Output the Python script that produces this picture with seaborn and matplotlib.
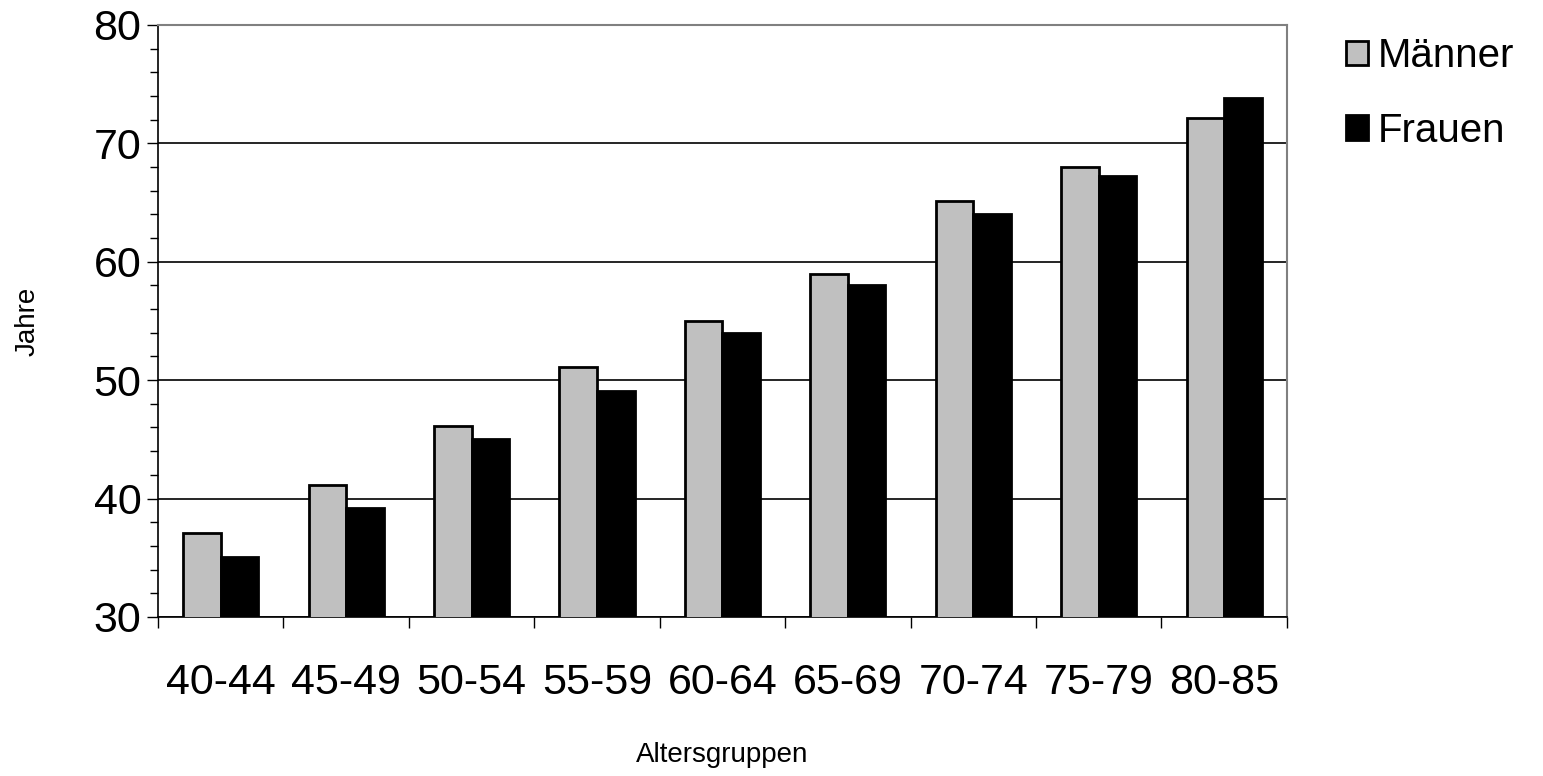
import matplotlib
matplotlib.use("Agg")
import matplotlib.pyplot as plt
import seaborn as sns
import pandas as pd
from matplotlib.ticker import MultipleLocator, FixedLocator, NullFormatter

groups = ["40-44", "45-49", "50-54", "55-59", "60-64", "65-69", "70-74", "75-79", "80-85"]
maenner = [37.1, 41.1, 46.1, 51.1, 55.0, 59.0, 65.1, 68.0, 72.1]
frauen = [35.1, 39.2, 45.0, 49.1, 54.0, 58.0, 64.0, 67.2, 73.8]
series = ["Männer", "Frauen"]
colors = ["#c0c0c0", "#000000"]

df = pd.DataFrame({
    "Altersgruppen": groups * 2,
    "Jahre": maenner + frauen,
    "Serie": [series[0]] * len(groups) + [series[1]] * len(groups),
})

sns.set_style("white")
plt.rcParams["font.family"] = ["Liberation Sans", "DejaVu Sans"]
plt.rcParams["text.color"] = "black"
plt.rcParams["axes.labelcolor"] = "black"
plt.rcParams["xtick.color"] = "black"
plt.rcParams["ytick.color"] = "black"

fig = plt.figure(figsize=(15.43, 7.76), dpi=100)
ax = fig.add_axes([0.1024, 0.205, 0.7316, 0.763])
sns.barplot(data=df, x="Altersgruppen", y="Jahre", hue="Serie", palette=colors,
            width=0.6, edgecolor="black", linewidth=2, ax=ax, zorder=3, dodge=True)
ax.set_ylim(30, 80)
ax.set_xlim(-0.5, len(groups) - 0.5)
ax.yaxis.set_major_locator(MultipleLocator(10))
ax.yaxis.set_minor_locator(MultipleLocator(2))
ax.grid(axis="y", color="black", linewidth=1.2, zorder=0)
ax.tick_params(axis="y", which="both", direction="out", left=True, length=6, width=1, labelsize=31)
ax.tick_params(axis="y", which="major", length=8, pad=4)
ax.xaxis.set_minor_locator(FixedLocator([i - 0.5 for i in range(len(groups) + 1)]))
ax.xaxis.set_minor_formatter(NullFormatter())
ax.tick_params(axis="x", which="minor", bottom=True, direction="out", length=8, width=1)
ax.tick_params(axis="x", which="major", bottom=False, labelsize=31, pad=30)
for s in ["left", "bottom"]:
    ax.spines[s].set_color("black")
    ax.spines[s].set_linewidth(1.2)
for s in ["top", "right"]:
    ax.spines[s].set_color("#808080")
    ax.spines[s].set_linewidth(1.5)
ax.set_xlabel("Altersgruppen", fontsize=20, labelpad=28)
ax.set_ylabel("Jahre", fontsize=20, labelpad=38)
handles, labels = ax.get_legend_handles_labels()
ax.legend(handles, labels, loc="upper left", bbox_to_anchor=(1.02, 1.04), frameon=False,
          fontsize=29, handlelength=0.55, handleheight=0.55, handletextpad=0.25, labelspacing=0.9)
fig.savefig("out.png", dpi=100)
